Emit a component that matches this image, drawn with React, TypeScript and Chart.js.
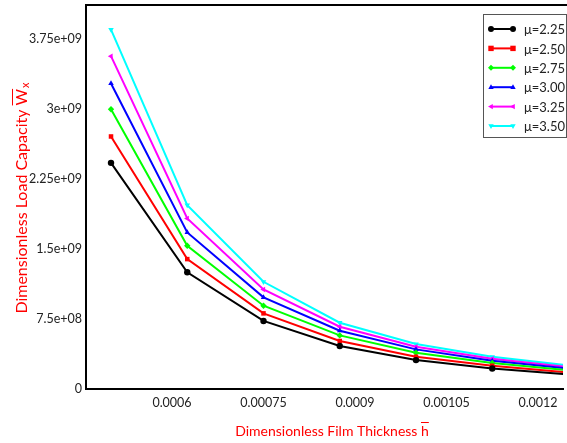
import React, { useEffect, useRef } from "react";
import { Chart, registerables } from "chart.js";

Chart.register(...registerables);

const xValues = [0.0005, 0.000625, 0.00075, 0.000875, 0.001, 0.001125, 0.00125];
const mu225 = [2.425e9, 1.252e9, 0.73e9, 0.461e9, 0.31e9, 0.22e9, 0.155e9];
const mu250 = [2.708e9, 1.393e9, 0.811e9, 0.515e9, 0.346e9, 0.25e9, 0.178e9];
const mu275 = [3.0e9, 1.536e9, 0.893e9, 0.575e9, 0.389e9, 0.28e9, 0.2e9];
const mu300 = [3.276e9, 1.679e9, 0.983e9, 0.625e9, 0.425e9, 0.302e9, 0.218e9];
const mu325 = [3.569e9, 1.829e9, 1.068e9, 0.668e9, 0.453e9, 0.325e9, 0.235e9];
const mu350 = [3.855e9, 1.972e9, 1.15e9, 0.711e9, 0.482e9, 0.345e9, 0.252e9];

const seriesLabels = ["\u03bc=2.25", "\u03bc=2.50", "\u03bc=2.75", "\u03bc=3.00", "\u03bc=3.25", "\u03bc=3.50"];
const seriesColors = ["#000000", "#ff0000", "#00ff00", "#0000ff", "#ff00ff", "#00ffff"];
const seriesStyles = ["circle", "rect", "rectRot", "triangle", "triangle", "triangle"];
const seriesRotations = [0, 0, 0, 0, 270, 180];

const xTickValues = [0.0006, 0.00075, 0.0009, 0.00105, 0.0012];
const xTickLabels = ["0.0006", "0.00075", "0.0009", "0.00105", "0.0012"];
const yTickValues = [0, 7.5e8, 1.5e9, 2.25e9, 3e9, 3.75e9];
const yTickLabels = ["0", "7.5e+08", "1.5e+09", "2.25e+09", "3e+09", "3.75e+09"];

const FONT = "Lato, 'Open Sans', sans-serif";

function drawMarker(ctx: CanvasRenderingContext2D, style: string, rot: number, x: number, y: number, r: number, color: string) {
  ctx.save();
  ctx.translate(x, y);
  ctx.rotate((rot * Math.PI) / 180);
  ctx.fillStyle = color;
  ctx.beginPath();
  if (style === "circle") {
    ctx.arc(0, 0, r, 0, Math.PI * 2);
  } else if (style === "rect") {
    ctx.rect(-r * 0.9, -r * 0.9, r * 1.8, r * 1.8);
  } else if (style === "rectRot") {
    ctx.moveTo(0, -r);
    ctx.lineTo(r, 0);
    ctx.lineTo(0, r);
    ctx.lineTo(-r, 0);
    ctx.closePath();
  } else {
    const h = r * 1.5;
    ctx.moveTo(0, -h * 0.66);
    ctx.lineTo(h * 0.6, h * 0.4);
    ctx.lineTo(-h * 0.6, h * 0.4);
    ctx.closePath();
  }
  ctx.fill();
  ctx.restore();
}

const decorPlugin = {
  id: "decor",
  afterDraw(chart: any) {
    const ctx: CanvasRenderingContext2D = chart.ctx;
    const ca = chart.chartArea;
    ctx.save();
    // top frame line
    ctx.strokeStyle = "#000";
    ctx.lineWidth = 2;
    ctx.beginPath();
    ctx.moveTo(ca.left - 1, ca.top);
    ctx.lineTo(chart.width, ca.top);
    ctx.stroke();

    // legend
    const lx = 483, ly = 14, lw = 83, lh = 123;
    ctx.fillStyle = "#fff";
    ctx.fillRect(lx, ly, lw, lh);
    ctx.strokeStyle = "#555";
    ctx.lineWidth = 1;
    ctx.strokeRect(lx + 0.5, ly + 0.5, lw, lh);
    ctx.font = "13px " + FONT;
    ctx.textBaseline = "middle";
    ctx.textAlign = "left";
    for (let i = 0; i < seriesLabels.length; i++) {
      const yy = 29 + i * 19.4;
      ctx.strokeStyle = seriesColors[i];
      ctx.lineWidth = 2;
      ctx.beginPath();
      ctx.moveTo(491, yy);
      ctx.lineTo(513, yy);
      ctx.stroke();
      drawMarker(ctx, seriesStyles[i], seriesRotations[i], 491, yy, 3, seriesColors[i]);
      drawMarker(ctx, seriesStyles[i], seriesRotations[i], 513, yy, 3, seriesColors[i]);
      ctx.fillStyle = "#222";
      ctx.fillText(seriesLabels[i], 524, yy + 1);
    }

    // x title
    ctx.fillStyle = "#ff0000";
    ctx.strokeStyle = "#ff0000";
    ctx.font = "14px " + FONT;
    ctx.textBaseline = "alphabetic";
    const xt = "Dimensionless Film Thickness ";
    const hw = ctx.measureText("h").width;
    const xw = ctx.measureText(xt).width + hw;
    const xs = 332 - xw / 2;
    const xb = 436;
    ctx.fillText(xt, xs, xb);
    const hx = xs + ctx.measureText(xt).width;
    ctx.fillText("h", hx, xb);
    ctx.lineWidth = 1;
    ctx.beginPath();
    ctx.moveTo(hx, xb - 13.5);
    ctx.lineTo(hx + hw, xb - 13.5);
    ctx.stroke();

    // y title
    ctx.save();
    ctx.translate(27, 198);
    ctx.rotate(-Math.PI / 2);
    const yt = "Dimensionless Load Capacity ";
    ctx.font = "16px " + FONT;
    const ytw = ctx.measureText(yt).width;
    const ww = ctx.measureText("W").width;
    ctx.font = "11px " + FONT;
    const subw = ctx.measureText("x").width;
    const total = ytw + ww + subw + 1;
    const ys = -total / 2;
    ctx.font = "16px " + FONT;
    ctx.fillText(yt, ys, 0);
    ctx.fillText("W", ys + ytw, 0);
    ctx.beginPath();
    ctx.moveTo(ys + ytw, -14.5);
    ctx.lineTo(ys + ytw + ww, -14.5);
    ctx.stroke();
    ctx.font = "11px " + FONT;
    ctx.fillText("x", ys + ytw + ww + 1, 2);
    ctx.restore();

    ctx.restore();
  },
};

export default function App() {
  const ref = useRef<HTMLCanvasElement | null>(null);
  useEffect(() => {
    if (!ref.current) return;
    const allSeries = [mu225, mu250, mu275, mu300, mu325, mu350];
    const chart = new Chart(ref.current, {
      type: "line",
      data: {
        datasets: allSeries.map((s, i) => ({
          label: seriesLabels[i],
          data: s.map((v, j) => ({ x: xValues[j], y: v })),
          borderColor: seriesColors[i],
          backgroundColor: seriesColors[i],
          borderWidth: 2,
          pointStyle: seriesStyles[i] as any,
          rotation: seriesRotations[i],
          pointRadius: 3.2,
          pointBorderWidth: 0,
          tension: 0,
          fill: false,
        })),
      },
      options: {
        responsive: false,
        animation: false,
        layout: { padding: { top: 5, right: 0, left: 0, bottom: 0 } },
        plugins: { legend: { display: false }, tooltip: { enabled: false } },
        scales: {
          x: {
            type: "linear",
            min: 0.000459,
            max: 0.001241,
            grid: { display: false, drawTicks: false },
            border: { display: true, color: "#000", width: 2 },
            afterBuildTicks: (scale: any) => {
              scale.ticks = xTickValues.map((v) => ({ value: v }));
            },
            afterFit: (scale: any) => {
              scale.height = 54;
              scale.paddingLeft = 0;
              scale.paddingRight = 0;
            },
            ticks: {
              color: "#222",
              font: { family: FONT, size: 12.5 },
              padding: 6,
              maxRotation: 0,
              autoSkip: false,
              callback: (v: any) => {
                const k = xTickValues.findIndex((t) => Math.abs(t - v) < 1e-9);
                return k >= 0 ? xTickLabels[k] : "";
              },
            },
          },
          y: {
            type: "linear",
            min: 0,
            max: 4.118e9,
            grid: { display: false, drawTicks: false },
            border: { display: true, color: "#000", width: 2 },
            afterBuildTicks: (scale: any) => {
              scale.ticks = yTickValues.map((v) => ({ value: v }));
            },
            afterFit: (scale: any) => {
              scale.width = 86;
              scale.paddingTop = 0;
              scale.paddingBottom = 0;
            },
            ticks: {
              color: "#222",
              font: { family: FONT, size: 12.5 },
              padding: 4,
              autoSkip: false,
              callback: (v: any) => {
                const k = yTickValues.findIndex((t) => Math.abs(t - v) < 1);
                return k >= 0 ? yTickLabels[k] : "";
              },
            },
          },
        },
      },
      plugins: [decorPlugin],
    });
    return () => chart.destroy();
  }, []);
  return (
    <div style={{ position: "fixed", left: 0, top: 0, width: 567, height: 443, background: "#fff" }}>
      <canvas ref={ref} width={567} height={443} style={{ width: 567, height: 443, display: "block" }} />
    </div>
  );
}
